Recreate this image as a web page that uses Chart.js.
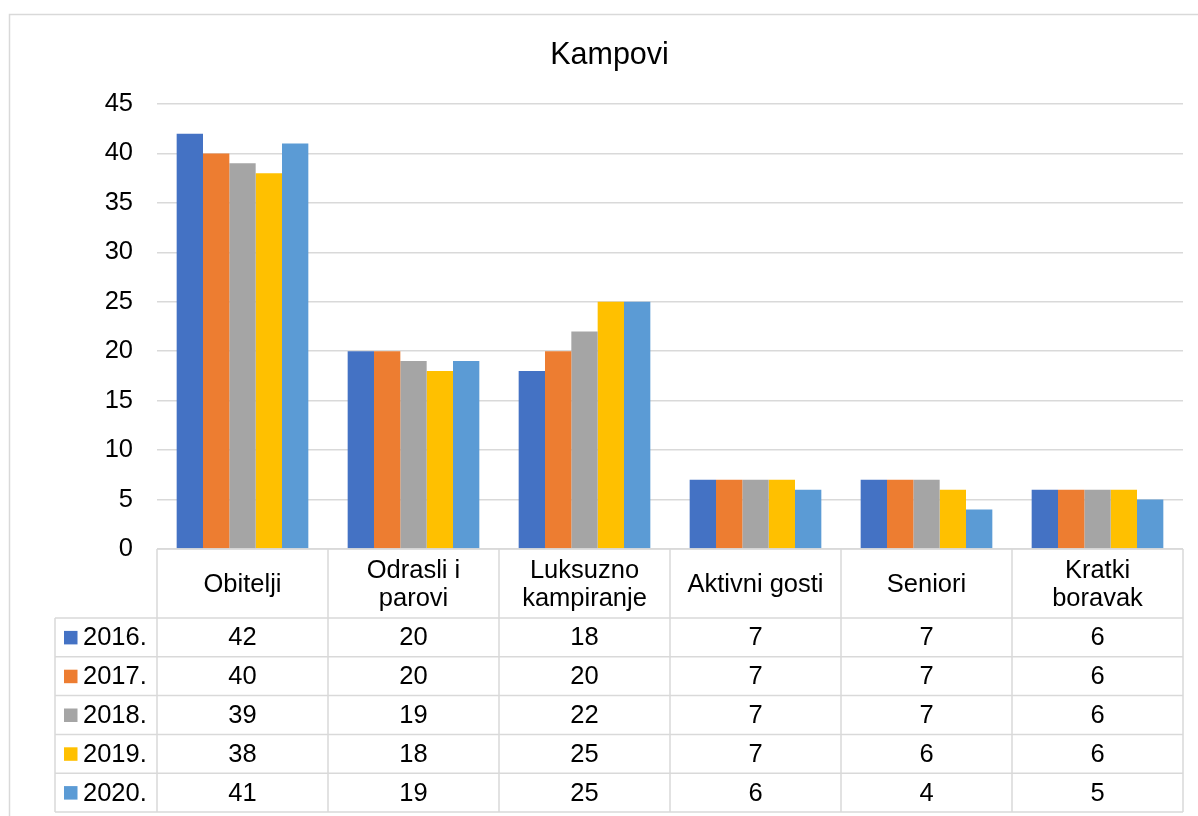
<!DOCTYPE html>
<html>
<head>
<meta charset="utf-8">
<script src="https://cdn.jsdelivr.net/npm/chart.js@4/dist/chart.umd.min.js"></script>
<style>
  html, body { margin: 0; padding: 0; background: #fff; }
  canvas { display: block; }
</style>
</head>
<body>
<canvas id="myChart" width="1198" height="816"></canvas>
<script>
// podaci
const naslov = 'Kampovi';
const kategorije = [['Obitelji'], ['Odrasli i', 'parovi'], ['Luksuzno', 'kampiranje'], ['Aktivni gosti'], ['Seniori'], ['Kratki', 'boravak']];
const godine = ['2016.', '2017.', '2018.', '2019.', '2020.'];
const boje = ['#4472C4', '#ED7D31', '#A5A5A5', '#FFC000', '#5B9BD5'];
const v2016 = [42, 20, 18, 7, 7, 6];
const v2017 = [40, 20, 20, 7, 7, 6];
const v2018 = [39, 19, 22, 7, 7, 6];
const v2019 = [38, 18, 25, 7, 6, 6];
const v2020 = [41, 19, 25, 6, 4, 5];
const vrijednosti = [v2016, v2017, v2018, v2019, v2020];
const yMax = 45;
const yKorak = 5;

const FONT = '"Liberation Sans", Arial, sans-serif';
const LINIJA = '#D9D9D9';

// tablica podataka ispod grafa + naslov + okvir
const tablicaPlugin = {
  id: 'tablica',
  afterDraw(chart) {
    const c = chart.ctx;
    const x = chart.scales.x;
    const area = chart.chartArea;
    const n = kategorije.length;
    const sirina = (area.right - area.left) / n;
    const vrhZaglavlja = area.bottom;
    const visinaZaglavlja = 69;
    const visinaReda = 38.8;
    const vrhPodataka = vrhZaglavlja + visinaZaglavlja;
    const dno = vrhPodataka + visinaReda * godine.length;
    const lijevoLegenda = 55;

    c.save();
    // okvir grafa
    c.strokeStyle = LINIJA;
    c.lineWidth = 1.5;
    c.beginPath();
    c.moveTo(9.5, 830);
    c.lineTo(9.5, 14.5);
    c.lineTo(1210, 14.5);
    c.stroke();

    // naslov
    c.fillStyle = '#000';
    c.font = '30.5px ' + FONT;
    c.textAlign = 'center';
    c.textBaseline = 'alphabetic';
    c.fillText(naslov, 609.5, 64);

    // linije tablice
    c.strokeStyle = LINIJA;
    c.lineWidth = 1.5;
    c.beginPath();
    c.moveTo(area.left, vrhZaglavlja);
    c.lineTo(area.right, vrhZaglavlja);
    for (let r = 0; r <= godine.length; r++) {
      const y = vrhPodataka + r * visinaReda;
      c.moveTo(lijevoLegenda, y);
      c.lineTo(area.right, y);
    }
    c.moveTo(lijevoLegenda, vrhPodataka);
    c.lineTo(lijevoLegenda, dno);
    for (let i = 0; i <= n; i++) {
      const xl = area.left + i * sirina;
      c.moveTo(xl, vrhZaglavlja);
      c.lineTo(xl, dno);
    }
    c.stroke();

    // zaglavlje (kategorije)
    c.fillStyle = '#000';
    c.font = '25.5px ' + FONT;
    c.textAlign = 'center';
    c.textBaseline = 'middle';
    const sredinaZaglavlja = vrhZaglavlja + visinaZaglavlja / 2;
    for (let i = 0; i < n; i++) {
      const cx = x.getPixelForValue(i);
      const linije = kategorije[i];
      const lh = 28;
      const y0 = sredinaZaglavlja - (linije.length - 1) * lh / 2;
      for (let k = 0; k < linije.length; k++) {
        c.fillText(linije[k], cx, y0 + k * lh + 1);
      }
    }

    // redovi s vrijednostima
    for (let r = 0; r < godine.length; r++) {
      const cy = vrhPodataka + r * visinaReda + visinaReda / 2 + 1;
      c.fillStyle = boje[r];
      c.fillRect(64, cy - 7.5, 13.5, 13.5);
      c.fillStyle = '#000';
      c.textAlign = 'left';
      c.fillText(godine[r], 83, cy);
      c.textAlign = 'center';
      for (let i = 0; i < n; i++) {
        c.fillText(String(vrijednosti[r][i]), x.getPixelForValue(i), cy);
      }
    }
    c.restore();
  }
};

const ctx = document.getElementById('myChart').getContext('2d');

const myChart = new Chart(ctx, {
  type: 'bar',
  data: {
    labels: kategorije,
    datasets: godine.map((g, i) => ({
      label: g,
      data: vrijednosti[i],
      backgroundColor: boje[i],
      borderWidth: 0,
      categoryPercentage: 0.77,
      barPercentage: 1.0
    }))
  },
  options: {
    responsive: false,
    animation: false,
    devicePixelRatio: 1,
    layout: {
      padding: { top: 104, right: 15, bottom: 267, left: 0 }
    },
    plugins: {
      legend: { display: false },
      tooltip: { enabled: false },
      title: { display: false }
    },
    scales: {
      x: {
        display: false
      },
      y: {
        min: 0,
        max: yMax,
        ticks: {
          stepSize: yKorak,
          color: '#000',
          padding: 24,
          font: { family: FONT, size: 25.5 }
        },
        grid: {
          color: LINIJA,
          lineWidth: 1.5,
          drawTicks: false
        },
        border: { display: false },
        afterFit: (axis) => { axis.width = 157; }
      }
    }
  },
  plugins: [tablicaPlugin]
});
</script>
</body>
</html>
